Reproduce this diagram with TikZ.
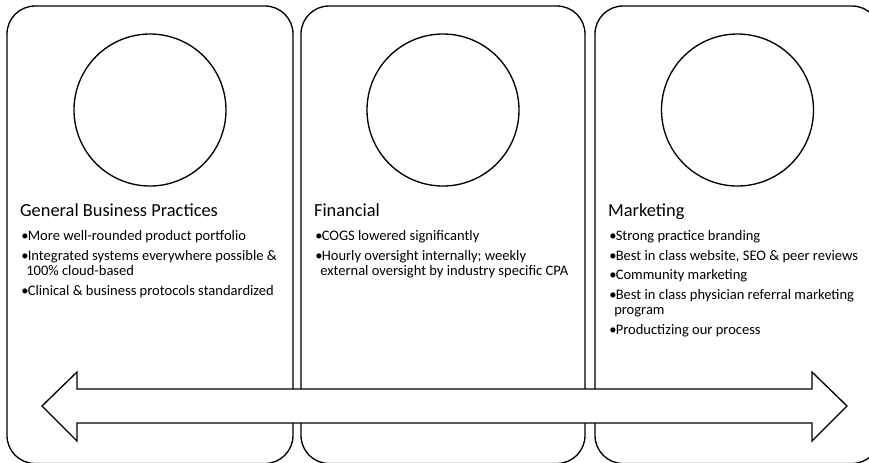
\documentclass[tikz,border=0pt]{standalone}
\usepackage{fontspec}
\setmainfont{Carlito}
\usepackage{tikz}
\tikzstyle{panel} = [draw = black, line width = 1pt, rounded corners = 21pt]
\tikzstyle{badge} = [circle, draw = black, line width = 1pt, inner sep = 0pt, minimum size = 114pt]
\tikzstyle{heading} = [anchor = base west, inner sep = 0pt, font = \fontsize{13.8}{16}\selectfont]
\tikzstyle{item} = [anchor = base west, inner sep = 0pt, font = \fontsize{10.9}{13}\selectfont]
\tikzstyle{band} = [draw = black, fill = white, line width = 1pt, line join = miter]
\newcommand{\bul}{\makebox[4.9pt][l]{\textbullet}}

\begin{document}
\begin{tikzpicture}[x = 0.75pt, y = -0.75pt]
        \useasboundingbox (0, 0) rectangle (869, 462);
        \clip (0, 0) rectangle (869, 462);
        % panels
        \draw [panel] (7, 6) rectangle (293, 463.5);
        \draw [panel] (301, 6) rectangle (585, 463.5);
        \draw [panel] (595, 6) rectangle (880, 463.5);
        \node (c1) at (150, 110) [badge] {};
        \node (c2) at (443, 110) [badge] {};
        \node (c3) at (737.5, 110) [badge] {};
        % general business practices
        \node (t1) at (19.8, 216.5) [heading] {General Business Practices};
        \node (a1) at (21, 240.5) [item] {\bul More well-rounded product portfolio};
        \node (a2) at (21, 260) [item] {\bul Integrated systems everywhere possible \&};
        \node (a2b) at (26, 275.5) [item] {100\% cloud-based};
        \node (a3) at (21, 295) [item] {\bul Clinical \& business protocols standardized};
        % financial
        \node (t2) at (313.8, 216.5) [heading] {Financial};
        \node (b1) at (315, 240.5) [item] {\bul COGS lowered significantly};
        \node (b2) at (315, 260) [item] {\bul Hourly oversight internally; weekly};
        \node (b2b) at (320, 275.5) [item] {external oversight by industry specific CPA};
        % marketing
        \node (t3) at (607.8, 216.5) [heading] {Marketing};
        \node (m1) at (609, 240.5) [item] {\bul Strong practice branding};
        \node (m2) at (609, 260) [item] {\bul Best in class website, SEO \& peer reviews};
        \node (m3) at (609, 279.5) [item] {\bul Community marketing};
        \node (m4) at (609, 299) [item] {\bul Best in class physician referral marketing};
        \node (m4b) at (614, 314.5) [item] {program};
        \node (m5) at (609, 334) [item] {\bul Productizing our process};
        % double arrow
        \draw [band] (42, 406) -- (77, 372) -- (77, 389) -- (812, 389) -- (812, 372) -- (847, 406)
            -- (812, 441) -- (812, 423) -- (77, 423) -- (77, 441) -- cycle;
    \end{tikzpicture}
\end{document}
